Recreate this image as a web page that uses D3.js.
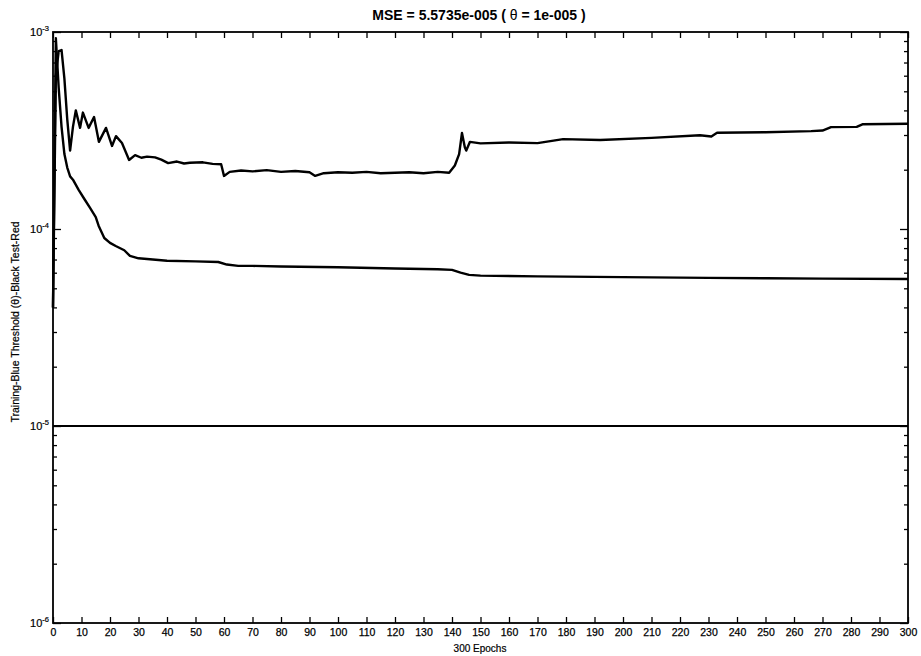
<!DOCTYPE html>
<html>
<head>
<meta charset="utf-8">
<script src="https://cdn.jsdelivr.net/npm/d3@7/dist/d3.min.js"></script>
<style>
  html, body { margin: 0; padding: 0; background: #fff; }
  svg { display: block; }
  text { font-family: Arial, "Liberation Sans", sans-serif; fill: #000; }
</style>
</head>
<body>
<svg id="chart" width="921" height="656"></svg>
<script>
// Training error per epoch (keypoints)
const trainEpochs = [0, 1, 2, 3, 4, 5, 6, 7, 9, 11, 13, 15, 16, 18, 20, 22, 25, 27, 30, 35, 40, 50, 58, 61, 65, 70, 80, 100, 120, 135, 140, 143, 146, 150, 170, 200, 230, 250, 270, 300];
const trainMSE = [4.0e-5, 9.3e-4, 5.2e-4, 3.3e-4, 2.4e-4, 2.05e-4, 1.85e-4, 1.78e-4, 1.58e-4, 1.42e-4, 1.28e-4, 1.15e-4, 1.04e-4, 9.0e-5, 8.5e-5, 8.2e-5, 7.8e-5, 7.3e-5, 7.1e-5, 7.0e-5, 6.9e-5, 6.85e-5, 6.8e-5, 6.6e-5, 6.5e-5, 6.5e-5, 6.45e-5, 6.4e-5, 6.3e-5, 6.25e-5, 6.2e-5, 6.0e-5, 5.85e-5, 5.8e-5, 5.75e-5, 5.7e-5, 5.65e-5, 5.62e-5, 5.6e-5, 5.57e-5];

// Test error per epoch (keypoints)
const testEpochs = [0, 1, 2, 3, 4, 5, 6, 7, 8, 9.5, 10.5, 12.5, 14.4, 16.1, 18.6, 20.7, 22.1, 24.2, 26.7, 28.8, 31, 33, 35.8, 38, 40.4, 43.5, 46, 48, 52.6, 56, 59, 60, 62, 66, 70, 75, 80, 85, 90, 92, 95, 100, 105, 110, 115, 120, 125, 130, 135, 139, 141, 142.5, 143.5, 144.5, 145, 146.3, 150, 160, 170, 179, 192, 210, 227, 231, 233, 250, 266, 270, 273, 282, 284, 300];
const testMSE = [4.0e-5, 6.0e-4, 8.0e-4, 8.1e-4, 5.8e-4, 3.6e-4, 2.5e-4, 3.3e-4, 4.0e-4, 3.26e-4, 3.9e-4, 3.26e-4, 3.7e-4, 2.77e-4, 3.26e-4, 2.64e-4, 2.96e-4, 2.73e-4, 2.24e-4, 2.37e-4, 2.3e-4, 2.33e-4, 2.31e-4, 2.25e-4, 2.16e-4, 2.2e-4, 2.15e-4, 2.17e-4, 2.18e-4, 2.14e-4, 2.13e-4, 1.86e-4, 1.95e-4, 1.98e-4, 1.96e-4, 1.99e-4, 1.95e-4, 1.97e-4, 1.94e-4, 1.86e-4, 1.92e-4, 1.94e-4, 1.93e-4, 1.95e-4, 1.92e-4, 1.93e-4, 1.94e-4, 1.92e-4, 1.95e-4, 1.93e-4, 2.1e-4, 2.4e-4, 3.07e-4, 2.6e-4, 2.5e-4, 2.77e-4, 2.72e-4, 2.75e-4, 2.73e-4, 2.86e-4, 2.83e-4, 2.9e-4, 2.99e-4, 2.95e-4, 3.08e-4, 3.1e-4, 3.14e-4, 3.16e-4, 3.29e-4, 3.3e-4, 3.4e-4, 3.42e-4];

// Stopping threshold θ
const thresholdValue = 1e-5;
const epochRange = [0, 300];

const xTicks = d3.range(0, 301, 10);
const yDecades = [-6, -5, -4, -3];

const titleMain = "MSE = 5.5735e-005 ( ";
const titleTheta = "\u03B8";
const titleRest = " = 1e-005 )";
const yLabelText = "Training-Blue  Threshold (\u03B8)-Black  Test-Red";
const xLabelText = "300 Epochs";

const svg = d3.select("#chart");
const plot = { left: 53, right: 908, top: 32, bottom: 623 };

const x = d3.scaleLinear().domain(epochRange).range([plot.left, plot.right]);
const y = d3.scaleLog().domain([1e-6, 1e-3]).range([plot.bottom, plot.top]);

// minor log ticks: 2..9 in each decade
const minorTicks = [];
yDecades.slice(0, 3).forEach(p => {
  for (let m = 2; m <= 9; m++) minorTicks.push(m * Math.pow(10, p));
});

const axes = svg.append("g");

// bottom and top axes, ticks pointing inward
const xBottom = d3.axisBottom(x).tickValues(xTicks).tickSizeInner(-6).tickSizeOuter(0).tickPadding(6).tickFormat(d3.format("d"));
const gxb = axes.append("g").attr("transform", `translate(0,${plot.bottom})`).call(xBottom);
gxb.selectAll("text").attr("font-size", 10.5).attr("font-family", "Arial, 'Liberation Sans', sans-serif")
  .attr("stroke", "#000").attr("stroke-width", 0.25);
const xTop = d3.axisTop(x).tickValues(xTicks).tickSizeInner(-6).tickSizeOuter(0).tickFormat("");
axes.append("g").attr("transform", `translate(0,${plot.top})`).call(xTop);

// left and right axes: major decade ticks + minor ticks
const yMajor = yDecades.map(p => Math.pow(10, p));
const yLeft = d3.axisLeft(y).tickValues(yMajor).tickSizeInner(-8).tickSizeOuter(0).tickFormat("");
axes.append("g").attr("transform", `translate(${plot.left},0)`).call(yLeft);
const yLeftMinor = d3.axisLeft(y).tickValues(minorTicks).tickSizeInner(-4).tickSizeOuter(0).tickFormat("");
axes.append("g").attr("transform", `translate(${plot.left},0)`).call(yLeftMinor);
const yRight = d3.axisRight(y).tickValues(yMajor).tickSizeInner(-8).tickSizeOuter(0).tickFormat("");
axes.append("g").attr("transform", `translate(${plot.right},0)`).call(yRight);
const yRightMinor = d3.axisRight(y).tickValues(minorTicks).tickSizeInner(-4).tickSizeOuter(0).tickFormat("");
axes.append("g").attr("transform", `translate(${plot.right},0)`).call(yRightMinor);

axes.selectAll(".domain").remove();
axes.selectAll(".tick line").attr("stroke", "#000").attr("stroke-width", 1.3);

// plot box
svg.append("rect")
  .attr("x", plot.left).attr("y", plot.top)
  .attr("width", plot.right - plot.left).attr("height", plot.bottom - plot.top)
  .attr("fill", "none").attr("stroke", "#000").attr("stroke-width", 1.8);

// y tick labels as 10^p
yDecades.forEach(p => {
  const t = svg.append("text")
    .attr("x", plot.left - 4)
    .attr("y", y(Math.pow(10, p)) + 4)
    .attr("text-anchor", "end")
    .attr("font-size", 11)
    .attr("stroke", "#000").attr("stroke-width", 0.2);
  t.append("tspan").text("10");
  t.append("tspan").attr("dy", -5).attr("font-size", 7.5).text("-" + Math.abs(p));
});

// curves
const line = d3.line().x(d => x(d[0])).y(d => y(d[1]));
const lines = svg.append("g").attr("fill", "none").attr("stroke", "#000").attr("stroke-linejoin", "round");

lines.append("path")
  .datum([[epochRange[0], thresholdValue], [epochRange[1], thresholdValue]])
  .attr("d", line).attr("stroke-width", 2);

lines.append("path")
  .datum(testEpochs.map((e, i) => [e, testMSE[i]]))
  .attr("d", line).attr("stroke-width", 2.4);

lines.append("path")
  .datum(trainEpochs.map((e, i) => [e, trainMSE[i]]))
  .attr("d", line).attr("stroke-width", 2.4);

// title and axis labels
const title = svg.append("text")
  .attr("x", 479).attr("y", 20)
  .attr("text-anchor", "middle")
  .attr("font-size", 14).attr("font-weight", "bold");
title.append("tspan").text(titleMain);
title.append("tspan").attr("font-weight", "normal").text(titleTheta);
title.append("tspan").text(titleRest);

svg.append("text")
  .attr("transform", `translate(19,322) rotate(-90)`)
  .attr("text-anchor", "middle")
  .attr("font-size", 10.5)
  .attr("stroke", "#000").attr("stroke-width", 0.2)
  .text(yLabelText);

svg.append("text")
  .attr("x", 480).attr("y", 652)
  .attr("text-anchor", "middle")
  .attr("font-size", 10)
  .attr("stroke", "#000").attr("stroke-width", 0.2)
  .text(xLabelText);
</script>
</body>
</html>
